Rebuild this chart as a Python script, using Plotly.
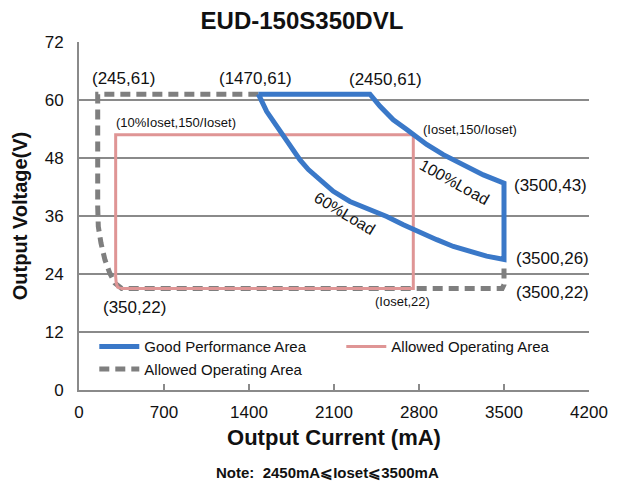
import plotly.graph_objects as go

FONT = "Liberation Sans, Arial, sans-serif"

# ---- data ----
x_ticks = [0, 700, 1400, 2100, 2800, 3500, 4200]
y_ticks = [0, 12, 24, 36, 48, 60, 72]

# Good performance area (blue): top edge, 100% load curve, right edge, 60% load curve back
good_x = [1477, 2396, 2479, 2588, 2699, 2753, 2863, 3000, 3165, 3330, 3500,
          3500, 3357, 3220, 3083, 2946, 2753, 2671, 2534, 2396, 2231, 2094,
          1957, 1889, 1820, 1752, 1682, 1614, 1546, 1477]
good_y = [61.2, 61.2, 58.7, 55.9, 53.9, 52.8, 50.8, 48.7, 46.6, 44.5, 42.8,
          27.0, 27.7, 28.7, 29.7, 31.1, 33.2, 34.2, 35.9, 37.3, 39.0, 41.1,
          43.9, 45.6, 47.6, 50.1, 52.5, 54.9, 57.6, 61.2]

# Allowed operating area (pink)
pink_x = [345, 2753, 2753, 302, 302, 306, 318, 345]
pink_y = [21.0, 21.0, 52.8, 52.8, 23.5, 22.2, 21.3, 21.0]

# Allowed operating area (gray dashed)
gray_x = [1477, 154, 154, 159, 181, 214, 255, 296, 352, 3485, 3500, 3500]
gray_y = [61.2, 61.2, 37.9, 33.8, 30.4, 26.9, 24.1, 22.1, 21.0, 21.0, 21.8, 25.5]

# point labels
lbl_text = ["(245,61)", "(1470,61)", "(2450,61)", "(3500,43)", "(3500,26)", "(3500,22)", "(350,22)"]
lbl_x = [366, 1457, 2520, 3879, 3903, 3903, 461]
lbl_y = [64.4, 64.4, 64.3, 42.3, 27.3, 20.1, 17.0]

small_text = ["(10%Ioset,150/Ioset)", "(Ioset,150/Ioset)", "(Ioset,22)"]
small_x = [800, 3220, 2668]
small_y = [55.3, 53.9, 18.3]

BLUE = "#3a78c8"
PINK = "#df9595"
GRAY = "#7f7f7f"
GRID = "#8a8a8a"

# page body has an 8px margin, so the figure is 8px smaller and left/top margins shifted
W, H = 613, 476

fig = go.Figure()
fig.add_trace(go.Scatter(x=gray_x, y=gray_y, mode="lines", name="Allowed Operating Area",
                         line=dict(color=GRAY, width=5, dash="10px,6px"), legendrank=3))
fig.add_trace(go.Scatter(x=pink_x, y=pink_y, mode="lines", name="Allowed Operating Area",
                         line=dict(color=PINK, width=3), legendrank=2))
fig.add_trace(go.Scatter(x=good_x, y=good_y, mode="lines", name="Good Performance Area",
                         line=dict(color=BLUE, width=5), legendrank=1))

ann = []
for t, x, y in zip(lbl_text, lbl_x, lbl_y):
    ann.append(dict(x=x, y=y, text=t, showarrow=False, xref="x", yref="y",
                    font=dict(family=FONT, size=17, color="#111111")))
for t, x, y in zip(small_text, small_x, small_y):
    ann.append(dict(x=x, y=y, text=t, showarrow=False, xref="x", yref="y",
                    font=dict(family=FONT, size=13, color="#111111")))
ann.append(dict(x=3096, y=42.9, text="100%Load", showarrow=False, textangle=29,
                font=dict(family=FONT, size=16, color="#111111")))
ann.append(dict(x=2190, y=36.6, text="60%Load", showarrow=False, textangle=31,
                font=dict(family=FONT, size=16, color="#111111")))
ann.append(dict(x=0.488, y=-0.236, xref="paper", yref="paper", yanchor="middle",
                text="<b>Note:  2450mA⩽Ioset⩽3500mA</b>", showarrow=False,
                font=dict(family=FONT, size=15, color="#111111")))

fig.update_layout(
    width=W, height=H,
    margin=dict(l=71, r=32, t=34, b=94, autoexpand=False),
    paper_bgcolor="white", plot_bgcolor="white",
    font=dict(family=FONT, color="#111111"),
    title=dict(text="<b>EUD-150S350DVL</b>", x=294/W, xref="container", xanchor="center",
               y=1 - 13/H, yref="container", yanchor="middle",
               font=dict(family=FONT, size=24, color="#111111")),
    showlegend=True,
    legend=dict(orientation="h", x=0.03, y=0.172, xanchor="left", yanchor="top",
                entrywidth=192, entrywidthmode="pixels", itemwidth=40,
                bgcolor="rgba(0,0,0,0)",
                font=dict(family=FONT, size=15, color="#111111"), tracegroupgap=0,
                traceorder="normal"),
    annotations=ann,
)
fig.update_xaxes(range=[0, 4200], tickvals=x_ticks, ticks="inside", ticklen=6, tickwidth=2,
                 tickcolor=GRID, showline=True, linecolor=GRID, linewidth=2, showgrid=False,
                 zeroline=False, tickfont=dict(family=FONT, size=17), ticklabelstandoff=6,
                 automargin=False,
                 title=dict(text="<b>Output Current (mA)</b>", font=dict(family=FONT, size=22),
                            standoff=8))
fig.update_yaxes(range=[0, 72], tickvals=y_ticks, ticks="", showline=True, linecolor=GRID,
                 linewidth=2, showgrid=True, gridcolor=GRID, gridwidth=2, zeroline=False,
                 tickfont=dict(family=FONT, size=17), ticklabelstandoff=10,
                 automargin=False,
                 title=dict(text="<b>Output Voltage(V)</b>", font=dict(family=FONT, size=20),
                            standoff=12))

fig.write_html("out.html")
